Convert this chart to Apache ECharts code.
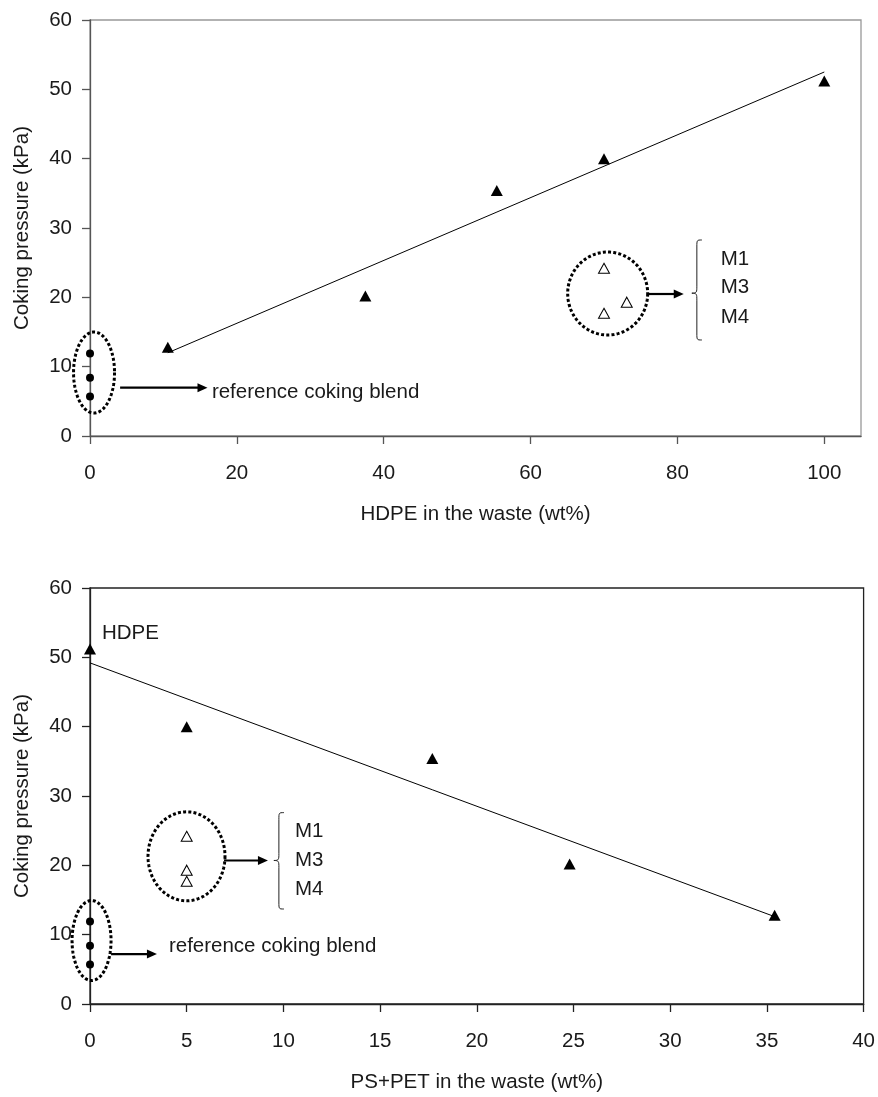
<!DOCTYPE html>
<html><head><meta charset="utf-8">
<script src="https://cdn.jsdelivr.net/npm/echarts@6/dist/echarts.min.js"></script>
<style>html,body{margin:0;padding:0;background:#fff}#c{width:878px;height:1097px}</style>
</head><body><div id="c"></div>
<script>
// ---- data ----
const hdpeWt = [10.6, 37.5, 55.4, 70.0, 100.0];
const psPetWt = [35.4, 24.8, 17.7, 5.0, 0.0];
const cokingPressure = [12.8, 20.2, 35.4, 40.0, 51.2];
const refBlendX = [0, 0, 0];
const refBlendPressure = [11.9, 8.4, 5.7];
const mixNames = ['M1', 'M3', 'M4'];
const mixHdpe = [70.0, 73.1, 70.0];
const mixPsPet = [5.0, 5.0, 5.0];
const mixPressure = [24.2, 19.3, 17.7];
const trendHdpeX = [10.6, 100];
const trendHdpeY = [12.0, 52.5];
const trendPsPetX = [0, 35.4];
const trendPsPetY = [49.2, 12.6];
const hdpeTicks = [0, 20, 40, 60, 80, 100];
const yTitle = 'Coking pressure (kPa)';
const xTitleTop = 'HDPE in the waste (wt%)';
const xTitleBottom = 'PS+PET in the waste (wt%)';
const refLabel = 'reference coking blend';
const hdpeLabel = 'HDPE';

const FONT = '"Liberation Sans", Arial, sans-serif';
const FS = 20.5;
const TXT = '#1a1a1a';

const zip = (a, b) => a.map((v, i) => [v, b[i]]);

const chart = echarts.init(document.getElementById('c'), null, {renderer: 'canvas'});

function yAx(gi, color) {
  return {
    gridIndex: gi, type: 'value', min: 0, max: 60, interval: 10,
    name: yTitle, nameLocation: 'middle', nameGap: 57, nameRotate: 90,
    nameTextStyle: {fontFamily: FONT, fontSize: FS, color: TXT},
    axisLine: {show: true, lineStyle: {color: color, width: 1.3}},
    axisTick: {show: true, inside: false, length: 8, lineStyle: {color: color, width: 1.3}},
    axisLabel: {fontFamily: FONT, fontSize: FS, color: TXT, margin: 18},
    splitLine: {show: false}
  };
}
function xAx(gi, max, interval, title, color, ticks) {
  const ax = {
    gridIndex: gi, type: 'value', min: 0, max: max, interval: interval,
    name: title, nameLocation: 'middle', nameGap: 68,
    nameTextStyle: {fontFamily: FONT, fontSize: FS, color: TXT},
    axisLine: {show: true, onZero: false, lineStyle: {color: color, width: 1.3}},
    axisTick: {show: true, inside: false, length: 8, lineStyle: {color: color, width: 1.3}},
    axisLabel: {fontFamily: FONT, fontSize: FS, color: TXT, margin: 27,
      formatter: v => (v > (ticks ? ticks[ticks.length - 1] : max) ? '' : String(v))},
    splitLine: {show: false}
  };
  if (ticks) {
    ax.axisTick.customValues = ticks;
    ax.axisLabel.customValues = ticks;
  }
  return ax;
}

function seriesFor(gi, xs, trendX, trendY, mixX) {
  return [
    {type: 'line', xAxisIndex: gi, yAxisIndex: gi, data: zip(trendX, trendY), showSymbol: false,
     symbol: 'none', lineStyle: {color: '#000', width: 1}, silent: true, z: 2},
    {type: 'scatter', xAxisIndex: gi, yAxisIndex: gi, data: zip(xs, cokingPressure), symbol: 'triangle',
     symbolSize: [12, 11], itemStyle: {color: '#000', opacity: 1}, z: 3},
    {type: 'scatter', xAxisIndex: gi, yAxisIndex: gi, data: zip(refBlendX, refBlendPressure), symbol: 'circle',
     symbolSize: 8, itemStyle: {color: '#000', opacity: 1}, z: 3, clip: false},
    {type: 'scatter', xAxisIndex: gi, yAxisIndex: gi, data: zip(mixX, mixPressure).map((d, i) => ({name: mixNames[i], value: d})),
     symbol: 'triangle', symbolSize: [11, 10],
     itemStyle: {color: '#fff', borderColor: '#000', borderWidth: 1, opacity: 1}, z: 3}
  ];
}

chart.setOption({
  animation: false,
  backgroundColor: '#fff',
  grid: [
    {left: 90, top: 20, width: 771, height: 416, show: true, borderColor: '#999', borderWidth: 1.3, backgroundColor: 'transparent'},
    {left: 90, top: 588, width: 774, height: 416, show: true, borderColor: '#222', borderWidth: 1.3, backgroundColor: 'transparent'}
  ],
  xAxis: [
    xAx(0, 105, 20, xTitleTop, '#555', hdpeTicks),
    xAx(1, 40, 5, xTitleBottom, '#222', null)
  ],
  yAxis: [yAx(0, '#555'), yAx(1, '#222')],
  series: [].concat(
    seriesFor(0, hdpeWt, trendHdpeX, trendHdpeY, mixHdpe),
    seriesFor(1, psPetWt, trendPsPetX, trendPsPetY, mixPsPet)
  )
});

// ---- annotations, anchored in data coordinates ----
const annotations = [
  {grid: 0,
   refEllipse: {c: [0.55, 9.15], rx: 20.5, ry: 40.5},
   refArrow: {x1: 4.1, x2: 16.0, y: 6.97},
   refText: {x: 16.6, y: 6.28},
   mixEllipse: {c: [70.5, 20.55], rx: 40, ry: 41.5},
   mixArrow: {x1: 75.95, x2: 80.86, y: 20.48},
   brace: {x: 82.1, top: 28.27, bottom: 13.85, tip: 20.6},
   mixText: {x: 85.9, ys: [25.5, 21.4, 17.1]},
   hdpeText: null},
  {grid: 1,
   refEllipse: {c: [0.08, 9.15], rx: 19.5, ry: 40},
   refArrow: {x1: 1.09, x2: 3.46, y: 7.2},
   refText: {x: 4.08, y: 8.3},
   mixEllipse: {c: [4.99, 21.3], rx: 38.5, ry: 44.5},
   mixArrow: {x1: 6.93, x2: 9.2, y: 20.7},
   brace: {x: 9.56, top: 27.6, bottom: 13.7, tip: 20.7},
   mixText: {x: 10.6, ys: [24.9, 20.7, 16.5]},
   hdpeText: {x: 0.62, y: 53.5}}
];

function px(gi, x, y) { return chart.convertToPixel({gridIndex: gi}, [x, y]); }

function ellipsePts(cx, cy, rx, ry) {
  const pts = [];
  const N = 120;
  for (let i = 0; i < N; i++) {
    const t = (i / N) * Math.PI * 2;
    pts.push([cx + rx * Math.cos(t), cy + ry * Math.sin(t)]);
  }
  return pts;
}
function text(t, x, y) {
  return {type: 'text', z: 10, style: {text: t, x: x, y: y, fill: TXT, font: FS + 'px ' + FONT,
    align: 'left', verticalAlign: 'middle', textAlign: 'left', textVerticalAlign: 'middle'}};
}
function arrow(x1, x2, y) {
  return [
    {type: 'line', z: 10, shape: {x1: x1, y1: y, x2: x2 - 7, y2: y}, style: {stroke: '#000', lineWidth: 2.2}},
    {type: 'polygon', z: 10, shape: {points: [[x2, y], [x2 - 10, y - 4.5], [x2 - 10, y + 4.5]]}, style: {fill: '#000'}}
  ];
}
function brace(x, top, bottom, tip) {
  const xr = x + 9, xm = x + 4, xl = x - 1, c = 7;
  const st = {stroke: '#222', lineWidth: 1, fill: 'none'};
  return [
    {type: 'bezierCurve', z: 10, shape: {x1: xr, y1: top, cpx1: xm, cpy1: top, cpx2: xm, cpy2: top, x2: xm, y2: top + c}, style: st},
    {type: 'line', z: 10, shape: {x1: xm, y1: top + c, x2: xm, y2: tip - c}, style: st},
    {type: 'bezierCurve', z: 10, shape: {x1: xm, y1: tip - c, cpx1: xm, cpy1: tip - 1, cpx2: xm, cpy2: tip, x2: xl, y2: tip}, style: st},
    {type: 'bezierCurve', z: 10, shape: {x1: xl, y1: tip, cpx1: xm, cpy1: tip, cpx2: xm, cpy2: tip + 1, x2: xm, y2: tip + c}, style: st},
    {type: 'line', z: 10, shape: {x1: xm, y1: tip + c, x2: xm, y2: bottom - c}, style: st},
    {type: 'bezierCurve', z: 10, shape: {x1: xm, y1: bottom - c, cpx1: xm, cpy1: bottom, cpx2: xm, cpy2: bottom, x2: xr, y2: bottom}, style: st}
  ];
}
const dotted = {fill: 'none', stroke: '#000', lineWidth: 3, lineDash: [3, 2.2], lineCap: 'butt'};

const graphics = [];
annotations.forEach(a => {
  const g = a.grid;
  const e1 = px(g, a.refEllipse.c[0], a.refEllipse.c[1]);
  graphics.push({type: 'polygon', z: 9, shape: {points: ellipsePts(e1[0], e1[1], a.refEllipse.rx, a.refEllipse.ry)}, style: dotted});
  const r1 = px(g, a.refArrow.x1, a.refArrow.y), r2 = px(g, a.refArrow.x2, a.refArrow.y);
  graphics.push(...arrow(r1[0], r2[0], r1[1]));
  const rt = px(g, a.refText.x, a.refText.y);
  graphics.push(text(refLabel, rt[0], rt[1]));
  const e2 = px(g, a.mixEllipse.c[0], a.mixEllipse.c[1]);
  graphics.push({type: 'polygon', z: 9, shape: {points: ellipsePts(e2[0], e2[1], a.mixEllipse.rx, a.mixEllipse.ry)}, style: dotted});
  const m1 = px(g, a.mixArrow.x1, a.mixArrow.y), m2 = px(g, a.mixArrow.x2, a.mixArrow.y);
  graphics.push(...arrow(m1[0], m2[0], m1[1]));
  const bt = px(g, a.brace.x, a.brace.top), bb = px(g, a.brace.x, a.brace.bottom), bm = px(g, a.brace.x, a.brace.tip);
  graphics.push(...brace(bt[0], bt[1], bb[1], bm[1]));
  a.mixText.ys.forEach((yv, i) => {
    const p = px(g, a.mixText.x, yv);
    graphics.push(text(mixNames[i], p[0], p[1]));
  });
  if (a.hdpeText) {
    const p = px(g, a.hdpeText.x, a.hdpeText.y);
    graphics.push(text(hdpeLabel, p[0], p[1]));
  }
});
chart.setOption({graphic: graphics});
</script>
</body></html>
